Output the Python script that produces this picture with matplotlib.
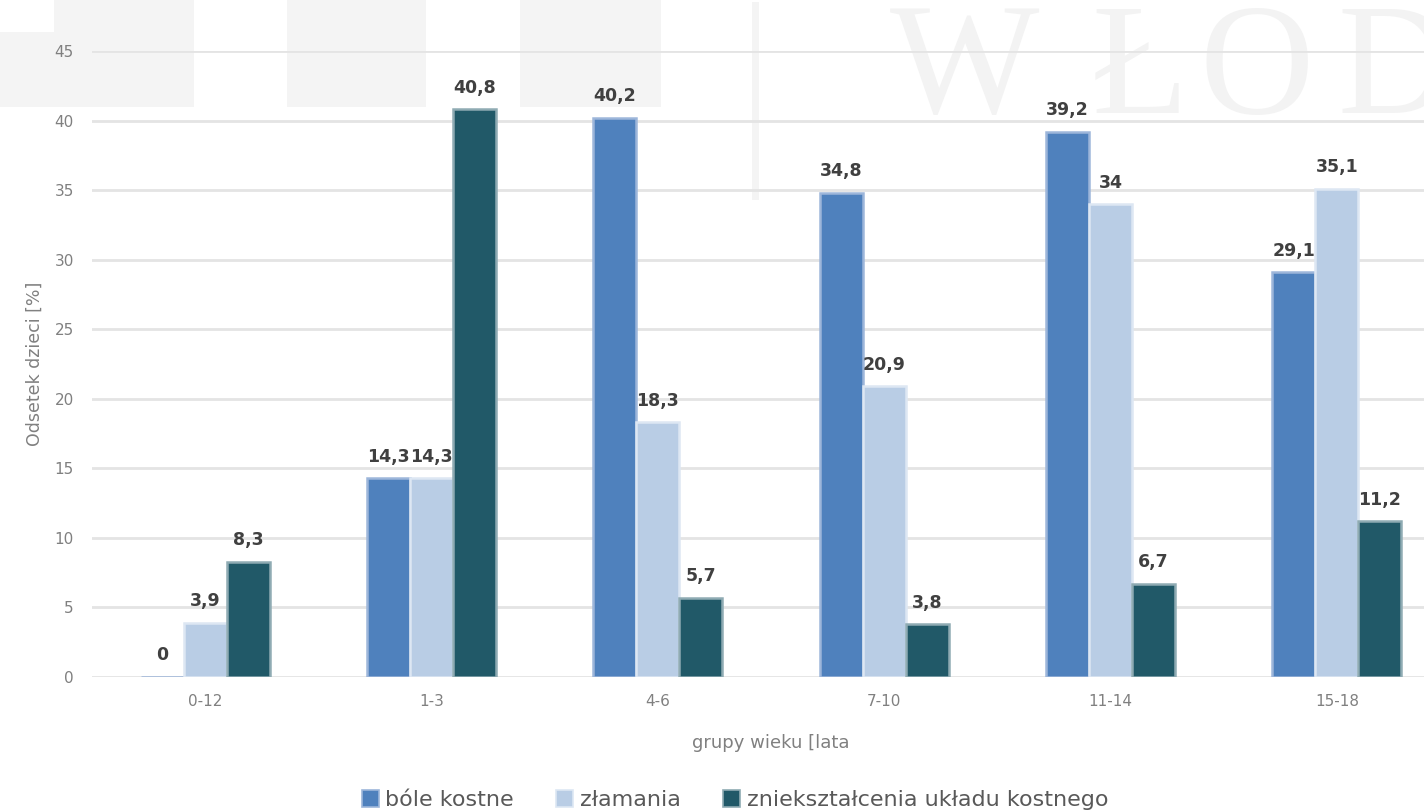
import matplotlib
matplotlib.use("Agg")
import matplotlib.pyplot as plt
import numpy as np
from matplotlib.patches import Patch, Polygon, Rectangle

plt.rcParams["font.family"] = ["DejaVu Sans"]

W_PX, H_PX = 1424, 811

categories = ["0-12", "1-3", "4-6", "7-10", "11-14", "15-18"]
bole_kostne = [0, 14.3, 40.2, 34.8, 39.2, 29.1]
zlamania = [3.9, 14.3, 18.3, 20.9, 34, 35.1]
znieksztalcenia = [8.3, 40.8, 5.7, 3.8, 6.7, 11.2]

series = [
    ("bóle kostne", bole_kostne, "#4f81bd", "#9db6da"),
    ("złamania", zlamania, "#b9cde5", "#dde7f3"),
    ("zniekształcenia układu kostnego", znieksztalcenia, "#215968", "#8fabb3"),
]


def fx(px):
    return px / W_PX


def fy(py):
    return 1 - py / H_PX


fig = plt.figure(figsize=(W_PX / 100, H_PX / 100), dpi=100)

# faint watermark behind the chart (kept below the axes)
wm = "#f4f4f4"
fig.patches.append(Polygon([(fx(54), fy(0)), (fx(194), fy(0)), (fx(194), fy(107)),
                            (fx(0), fy(107)), (fx(0), fy(32)), (fx(54), fy(32))],
                           closed=True, transform=fig.transFigure, facecolor=wm,
                           edgecolor="none", zorder=0))
for x0, x1 in [(287, 426), (520, 661)]:
    fig.patches.append(Rectangle((fx(x0), fy(107)), fx(x1 - x0), 107 / H_PX,
                                 transform=fig.transFigure, facecolor=wm,
                                 edgecolor="none", zorder=0))
fig.patches.append(Rectangle((fx(752), fy(200)), fx(7), 198 / H_PX,
                             transform=fig.transFigure, facecolor=wm,
                             edgecolor="none", zorder=0))
for letter, xc in [("W", 965), ("Ł", 1140), ("O", 1257), ("D", 1395)]:
    fig.text(fx(xc), fy(113), letter, ha="center", va="baseline",
             fontsize=114, family="Liberation Serif", color="#f3f3f3", zorder=0)

ax = fig.add_axes([fx(92), fy(677), 1358 / W_PX, 626 / H_PX])
ax.set_facecolor("none")
ax.set_zorder(2)

x = np.arange(len(categories))
width = 0.19
offsets = [-0.19, 0.0, 0.19]

for (name, vals, col, edge), off in zip(series, offsets):
    bars = ax.bar(x + off, vals, width, color=col, edgecolor=edge,
                  linewidth=1.8, label=name, zorder=3)
    for b, v in zip(bars, vals):
        ax.annotate(f"{v:g}".replace(".", ","),
                    (b.get_x() + b.get_width() / 2, v),
                    xytext=(0, 9), textcoords="offset points",
                    ha="center", va="bottom", fontsize=12.5,
                    fontweight="bold", color="#404040", zorder=4)

ax.set_xlim(-0.5, 5.5)
ax.set_ylim(0, 45)
ax.set_yticks(np.arange(0, 46, 5))
ax.set_xticks(x)
ax.set_xticklabels(categories)
ax.yaxis.grid(True, color="#e4e4e4", linewidth=2, zorder=1)
ax.set_axisbelow(True)
for s in ax.spines.values():
    s.set_visible(False)
ax.tick_params(axis="y", length=0, pad=13, labelsize=11, labelcolor="#808080")
ax.tick_params(axis="x", length=0, pad=12, labelsize=11, labelcolor="#808080")

ax.set_ylabel("Odsetek dzieci [%]", fontsize=12.5, color="#808080", labelpad=8)
ax.set_xlabel("grupy wieku [lata", fontsize=13, color="#808080", labelpad=18)

handles = [Patch(facecolor=c, edgecolor=e, linewidth=1.2, label=n)
           for n, _, c, e in series]
fig.legend(handles=handles, loc="center", bbox_to_anchor=(fx(735), fy(800)),
           ncol=3, frameon=False, fontsize=16, handlelength=0.77,
           handleheight=0.77, handletextpad=0.3, columnspacing=1.9,
           labelcolor="#595959")

fig.savefig("out.png", dpi=100)
